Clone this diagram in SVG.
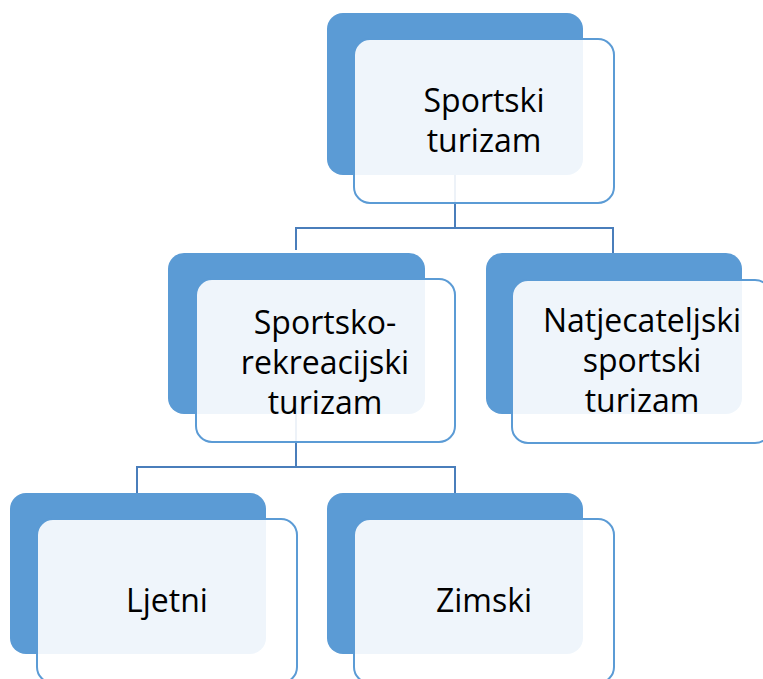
<svg xmlns="http://www.w3.org/2000/svg" width="763" height="679" viewBox="0 0 763 679">
<style>
.back{fill:#5B9BD5;}
.front{fill:#FFFFFF;fill-opacity:0.9;stroke:#5B9BD5;stroke-width:2;}
.conn{fill:none;stroke:#4A7EBB;stroke-width:2;}
text{font-family:"Open Sans","Noto Sans",sans-serif;font-size:32px;fill:#000;text-anchor:middle;}
</style>
<rect width="763" height="679" fill="#FFFFFF"/>
<g id="connectors">
<path class="conn" d="M455,175 V228 M296,250 V228 H613 V253"/>
<path class="conn" d="M296,414 V467 M137,493 V467 H455 V493"/>
</g>
<g id="node-sportski-turizam">
<rect class="back" x="327" y="13" width="256" height="162" rx="16"/>
<rect class="front" x="354" y="39" width="260" height="164" rx="16"/>
<text x="484" y="112">Sportski</text>
<text x="484" y="152">turizam</text>
</g>
<g id="node-sportsko-rekreacijski">
<rect class="back" x="168" y="253" width="257" height="161" rx="16"/>
<rect class="front" x="196" y="279" width="259" height="163" rx="16"/>
<text x="325" y="334">Sportsko-</text>
<text x="325" y="374">rekreacijski</text>
<text x="325" y="414">turizam</text>
</g>
<g id="node-natjecateljski">
<rect class="back" x="486" y="253" width="256" height="161" rx="16"/>
<rect class="front" x="512" y="280" width="259" height="163" rx="16"/>
<text x="642" y="332">Natjecateljski</text>
<text x="642" y="372">sportski</text>
<text x="642" y="412">turizam</text>
</g>
<g id="node-ljetni">
<rect class="back" x="10" y="493" width="256" height="161" rx="16"/>
<rect class="front" x="37" y="519" width="260" height="164" rx="16"/>
<text x="167" y="612">Ljetni</text>
</g>
<g id="node-zimski">
<rect class="back" x="327" y="493" width="256" height="161" rx="16"/>
<rect class="front" x="354" y="519" width="260" height="164" rx="16"/>
<text x="484" y="612">Zimski</text>
</g>
</svg>
